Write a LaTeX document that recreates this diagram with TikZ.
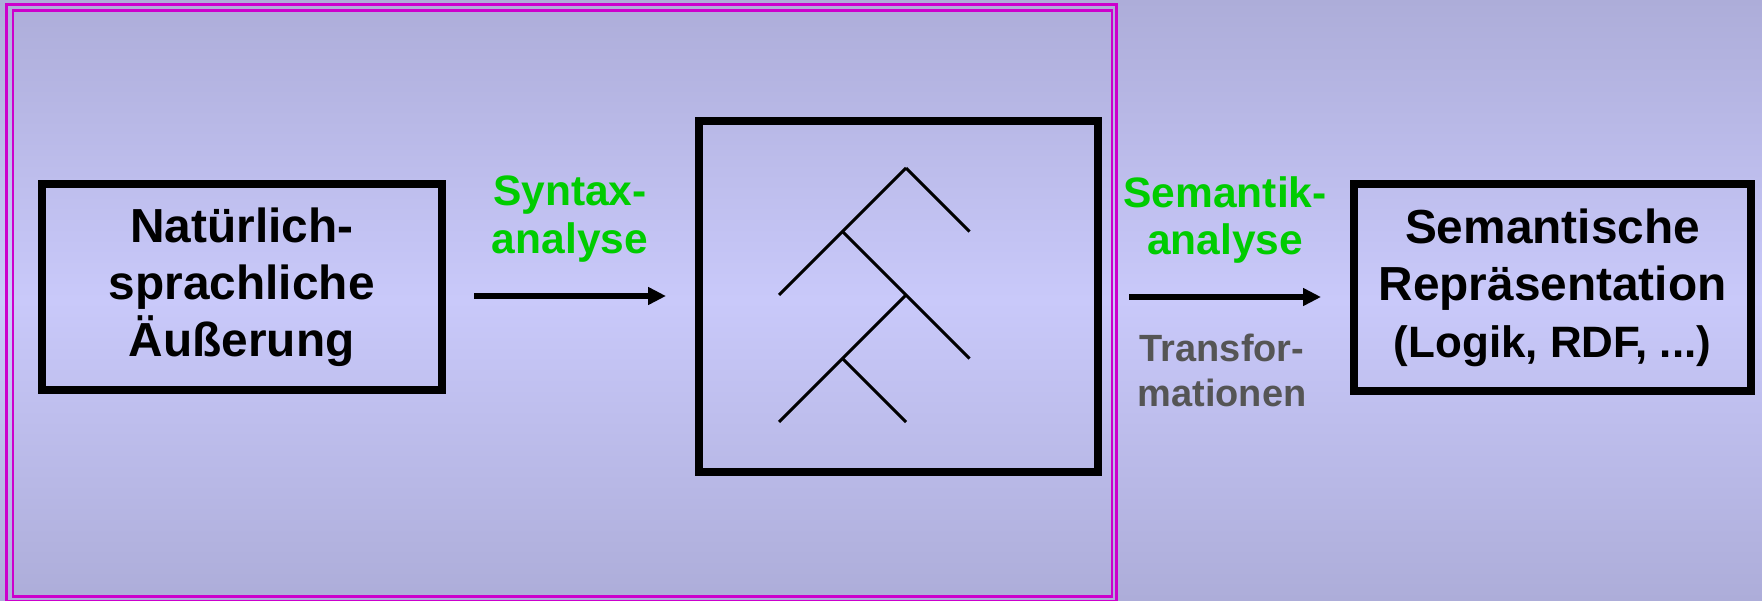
\documentclass[tikz,border=0pt]{standalone}
\usepackage{fontspec}
\setmainfont{Liberation Sans}
\usepackage{tikz}
\usetikzlibrary{arrows.meta}
\definecolor{bgEdge}{HTML}{ADADD9}
\definecolor{bgMid}{HTML}{C9C9FA}
\definecolor{frameMagenta}{HTML}{CC00CC}
\definecolor{stepGreen}{HTML}{00CC00}
\definecolor{noteGray}{HTML}{555555}

\begin{document}
\begin{tikzpicture}[
      box/.style={draw, line width=0.08cm, minimum width=4cm, minimum height=2.07cm, align=center, inner sep=0pt, font=\fontsize{13.6}{16.2}\selectfont\bfseries},
      steplabel/.style={text=stepGreen, align=center, font=\fontsize{12.1}{13.6}\selectfont\bfseries},
      note/.style={text=noteGray, align=center, font=\fontsize{10.8}{12.8}\selectfont\bfseries},
      outline/.style={draw=frameMagenta, line width=0.028cm},
      branch/.style={line width=0.03cm},
      arr/.style={->, line width=0.06cm},
      >={Triangle[length=0.18cm, width=0.17cm]},
    ]
    \useasboundingbox (0,0) rectangle (17.62,6);
    \shade[top color=bgEdge, bottom color=bgEdge, middle color=bgMid] (0,0) rectangle (17.62,6);
    % magenta double frame
    \draw[outline] (0.065,-0.01) rectangle (11.165,5.955);
    \draw[outline] (0.13,0.035) rectangle (11.12,5.895);

    \node[box, minimum height=2.06cm] (utter) at (2.4175,3.13) {Natürlich-\\sprachliche\\Äußerung};
    \node[box, minimum width=3.99cm, minimum height=3.51cm] (parse) at (8.985,3.04) {};
    \node[box, minimum width=3.97cm] (repr) at (15.525,3.125) {Semantische\\Repräsentation\\{\fontsize{12.5}{15}\selectfont(Logik, RDF, ...)}};

    % parse tree
    \coordinate (tA) at (9.06,4.32);
    \coordinate (tB) at (8.425,3.685);
    \coordinate (tC) at (9.06,3.05);
    \coordinate (tD) at (8.425,2.415);
    \draw[branch] (tA) -- ++(0.635,-0.635);
    \draw[branch] (tA) -- ++(-1.27,-1.27);
    \draw[branch] (tB) -- ++(1.27,-1.27);
    \draw[branch] (tC) -- ++(-1.27,-1.27);
    \draw[branch] (tD) -- ++(0.635,-0.635);

    % arrows
    \coordinate (a1s) at (4.74,3.04);
    \coordinate (a1e) at (6.66,3.04);
    \coordinate (a2s) at (11.29,3.03);
    \coordinate (a2e) at (13.21,3.03);
    \draw[arr] (a1s) -- (a1e) node[midway, steplabel, yshift=0.77cm] (syn) {Syntax-\\analyse};
    \draw[arr] (a2s) -- (a2e) node[midway, steplabel, yshift=0.77cm] (sem) {Semantik-\\analyse};
    \node[note] (trans) at (12.22,2.30) {Transfor-\\mationen};
\end{tikzpicture}
\end{document}
